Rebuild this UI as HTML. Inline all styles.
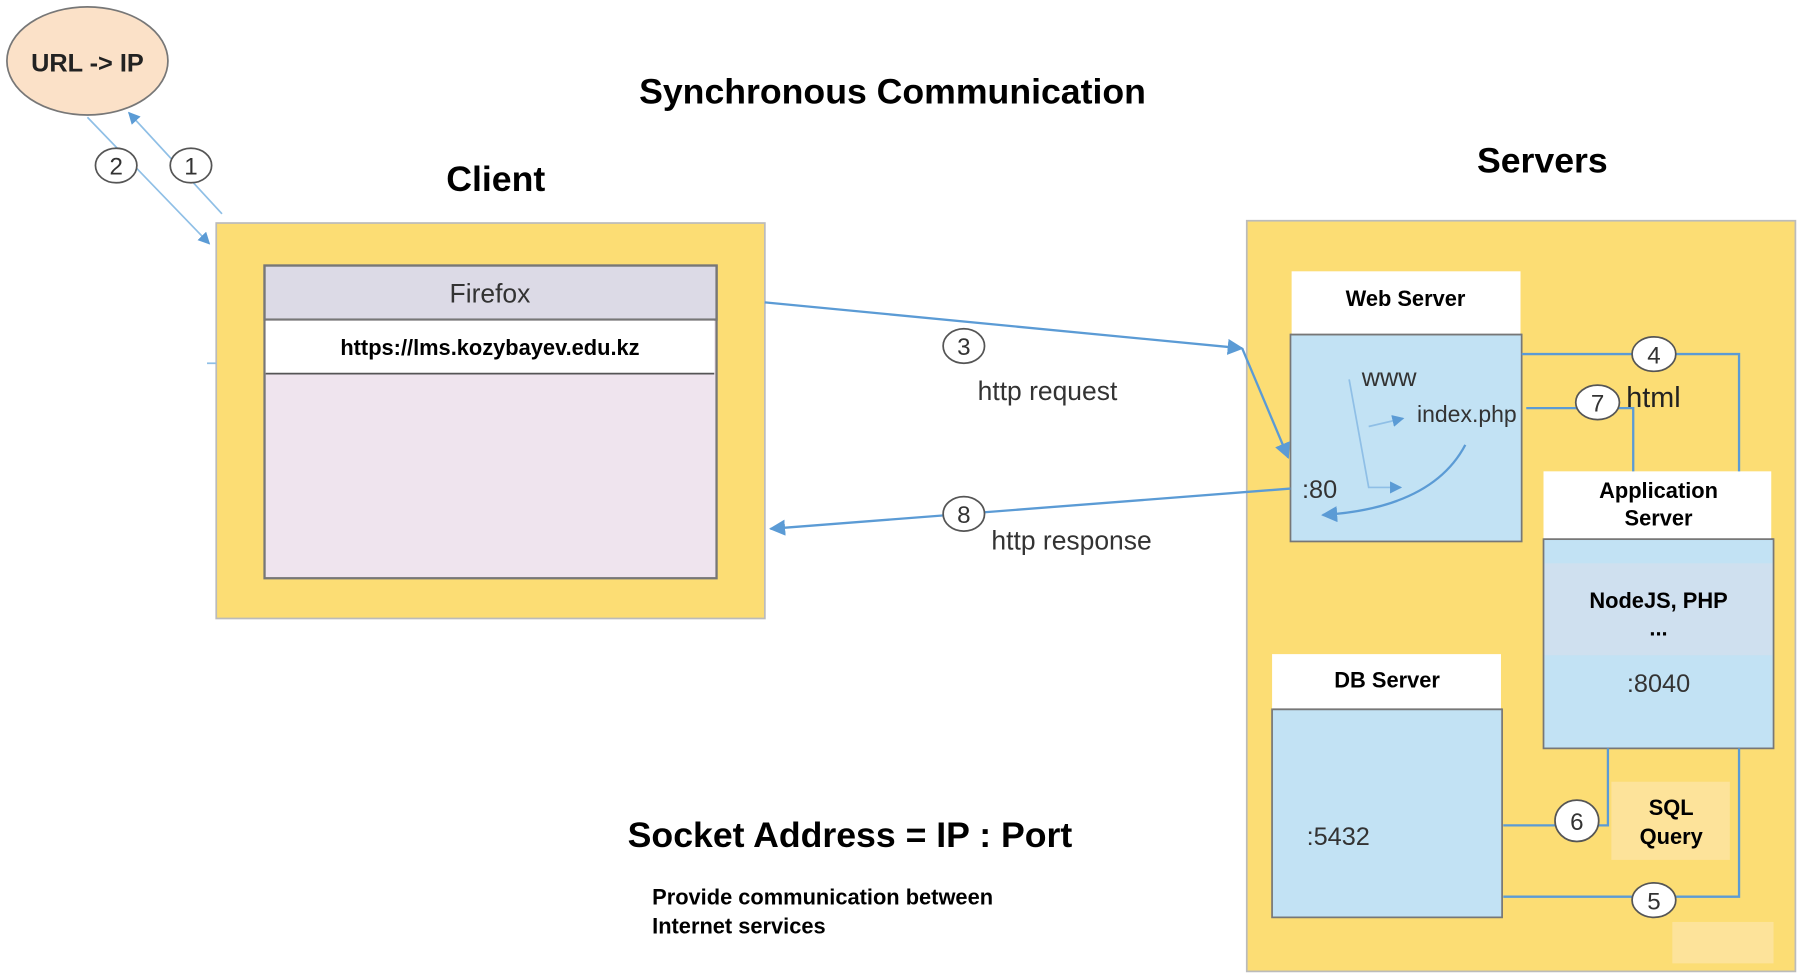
<!DOCTYPE html>
<html><head><meta charset="utf-8"><style>
html,body{margin:0;padding:0;background:#fff;}
svg{display:block;}
text{font-family:"Liberation Sans",sans-serif;}
</style></head><body>
<svg width="1800" height="976" viewBox="0 0 1565 849" preserveAspectRatio="none" xmlns="http://www.w3.org/2000/svg">
<defs>
<marker id="a" viewBox="0 0 10 10" refX="9" refY="5" markerWidth="7" markerHeight="7" orient="auto-start-reverse"><path d="M0,0 L10,5 L0,10 z" fill="#5b9bd5"/></marker>
</defs>
<rect width="1565" height="849" fill="#fff"/>
<!-- URL->IP -->
<ellipse cx="76" cy="53" rx="70" ry="47" fill="#fbe1c8" stroke="#777" stroke-width="1.5"/>
<text x="76" y="62" font-size="22" font-weight="bold" text-anchor="middle" fill="#222">URL -&gt; IP</text>
<line x1="193" y1="186" x2="112" y2="98" stroke="#8fbfe6" stroke-width="1.5" marker-end="url(#a)"/>
<line x1="76" y1="102" x2="182" y2="212" stroke="#8fbfe6" stroke-width="1.5" marker-end="url(#a)"/>
<text x="776" y="90" font-size="31" font-weight="bold" text-anchor="middle">Synchronous Communication</text>
<text x="431" y="166" font-size="31" font-weight="bold" text-anchor="middle">Client</text>
<text x="1341" y="150" font-size="31" font-weight="bold" text-anchor="middle">Servers</text>
<!-- client -->
<rect x="188" y="194" width="477" height="344" fill="#fcdd74" stroke="#bbb" stroke-width="1.5"/>
<line x1="180" y1="316" x2="188" y2="316" stroke="#8fbfe6" stroke-width="1.5"/>
<rect x="230" y="231" width="393" height="272" fill="#efe4ee" stroke="#777" stroke-width="2"/>
<rect x="230" y="231" width="393" height="47" fill="#dcdae6" stroke="#777" stroke-width="2"/>
<rect x="231" y="279" width="390" height="46" fill="#fff"/>
<line x1="231" y1="325" x2="621" y2="325" stroke="#555" stroke-width="1.5"/>
<text x="426" y="263" font-size="23" text-anchor="middle" fill="#333">Firefox</text>
<text x="426" y="309" font-size="19" font-weight="bold" text-anchor="middle">https://lms.kozybayev.edu.kz</text>
<!-- servers -->
<rect x="1084" y="192" width="477" height="653" fill="#fcdd74" stroke="#bbb" stroke-width="1.5"/>
<rect x="1454" y="802" width="88" height="36" fill="#fde39a"/>
<!-- web server -->
<rect x="1122" y="291" width="201" height="180" fill="#c2e2f4" stroke="#777" stroke-width="1.5"/>
<rect x="1123" y="236" width="199" height="55" fill="#fff"/>
<line x1="1122" y1="291" x2="1323" y2="291" stroke="#777" stroke-width="1.5"/>
<text x="1222" y="266" font-size="19" font-weight="bold" text-anchor="middle">Web Server</text>
<text x="1184" y="336" font-size="22" fill="#333">www</text>
<text x="1232" y="367" font-size="20" fill="#333">index.php</text>
<text x="1132" y="433" font-size="22" fill="#333">:80</text>
<polyline points="1173,330 1190,424 1218,424" fill="none" stroke="#8fbfe6" stroke-width="1.5" marker-end="url(#a)"/>
<line x1="1190" y1="371" x2="1220" y2="364" stroke="#8fbfe6" stroke-width="1.5" marker-end="url(#a)"/>
<path d="M1274,387 Q1245,442 1150,448" fill="none" stroke="#5b9bd5" stroke-width="2" marker-end="url(#a)"/>
<!-- app server -->
<rect x="1342" y="469" width="200" height="182" fill="#c2e2f4" stroke="#777" stroke-width="1.5"/>
<rect x="1343" y="490" width="198" height="80" fill="#cfe0ef"/>
<rect x="1342" y="410" width="198" height="59" fill="#fff"/>
<line x1="1342" y1="469" x2="1542" y2="469" stroke="#777" stroke-width="1.5"/>
<text x="1442" y="433" font-size="19" font-weight="bold" text-anchor="middle">Application</text>
<text x="1442" y="457" font-size="19" font-weight="bold" text-anchor="middle">Server</text>
<text x="1442" y="529" font-size="19" font-weight="bold" text-anchor="middle">NodeJS, PHP</text>
<text x="1442" y="553" font-size="19" font-weight="bold" text-anchor="middle">...</text>
<text x="1442" y="602" font-size="22" text-anchor="middle" fill="#333">:8040</text>
<!-- db -->
<rect x="1106" y="617" width="200" height="181" fill="#c2e2f4" stroke="#777" stroke-width="1.5"/>
<rect x="1106" y="569" width="199" height="48" fill="#fff"/>
<line x1="1106" y1="617" x2="1306" y2="617" stroke="#777" stroke-width="1.5"/>
<text x="1206" y="598" font-size="19" font-weight="bold" text-anchor="middle">DB Server</text>
<text x="1136" y="735" font-size="22" fill="#333">:5432</text>
<rect x="1401" y="680" width="103" height="68" fill="#fde39a"/>
<text x="1453" y="709" font-size="19" font-weight="bold" text-anchor="middle">SQL</text>
<text x="1453" y="734" font-size="19" font-weight="bold" text-anchor="middle">Query</text>
<!-- connectors -->
<g fill="none" stroke="#5b9bd5" stroke-width="2">
<polyline points="1323,308 1512,308 1512,410"/>
<polyline points="1327,355 1420,355 1420,410"/>
<polyline points="1307,718 1398,718 1398,651"/>
<polyline points="1307,780 1512,780 1512,651"/>
<line x1="665" y1="263" x2="1080" y2="303" marker-end="url(#a)"/>
<line x1="1080" y1="303" x2="1120" y2="398" marker-end="url(#a)"/>
<line x1="1122" y1="425" x2="670" y2="460" marker-end="url(#a)"/>
</g>
<text x="850" y="348" font-size="23" fill="#333">http request</text>
<text x="862" y="478" font-size="23" fill="#333">http response</text>
<text x="1414" y="354" font-size="25" fill="#222">html</text>
<g font-size="21" text-anchor="middle" fill="#333">
<ellipse cx="166" cy="144" rx="18" ry="15" fill="#fff" stroke="#555" stroke-width="1.5"/><text x="166" y="152">1</text>
<ellipse cx="101" cy="144" rx="18" ry="15" fill="#fff" stroke="#555" stroke-width="1.5"/><text x="101" y="152">2</text>
<ellipse cx="838" cy="301" rx="18" ry="15" fill="#fff" stroke="#555" stroke-width="1.5"/><text x="838" y="309">3</text>
<ellipse cx="1438" cy="308" rx="19" ry="15" fill="#fff" stroke="#555" stroke-width="1.5"/><text x="1438" y="316">4</text>
<ellipse cx="1389" cy="350" rx="19" ry="15" fill="#fff" stroke="#555" stroke-width="1.5"/><text x="1389" y="358">7</text>
<ellipse cx="838" cy="447" rx="18" ry="15" fill="#fff" stroke="#555" stroke-width="1.5"/><text x="838" y="455">8</text>
<ellipse cx="1371" cy="714" rx="19" ry="18" fill="#fff" stroke="#555" stroke-width="1.5"/><text x="1371" y="722">6</text>
<ellipse cx="1438" cy="783" rx="19" ry="15" fill="#fff" stroke="#555" stroke-width="1.5"/><text x="1438" y="791">5</text>
</g>
<text x="739" y="737" font-size="31" font-weight="bold" text-anchor="middle">Socket Address = IP : Port</text>
<text x="567" y="787" font-size="19" font-weight="bold">Provide communication between</text>
<text x="567" y="812" font-size="19" font-weight="bold">Internet services</text>
</svg>
</body></html>
